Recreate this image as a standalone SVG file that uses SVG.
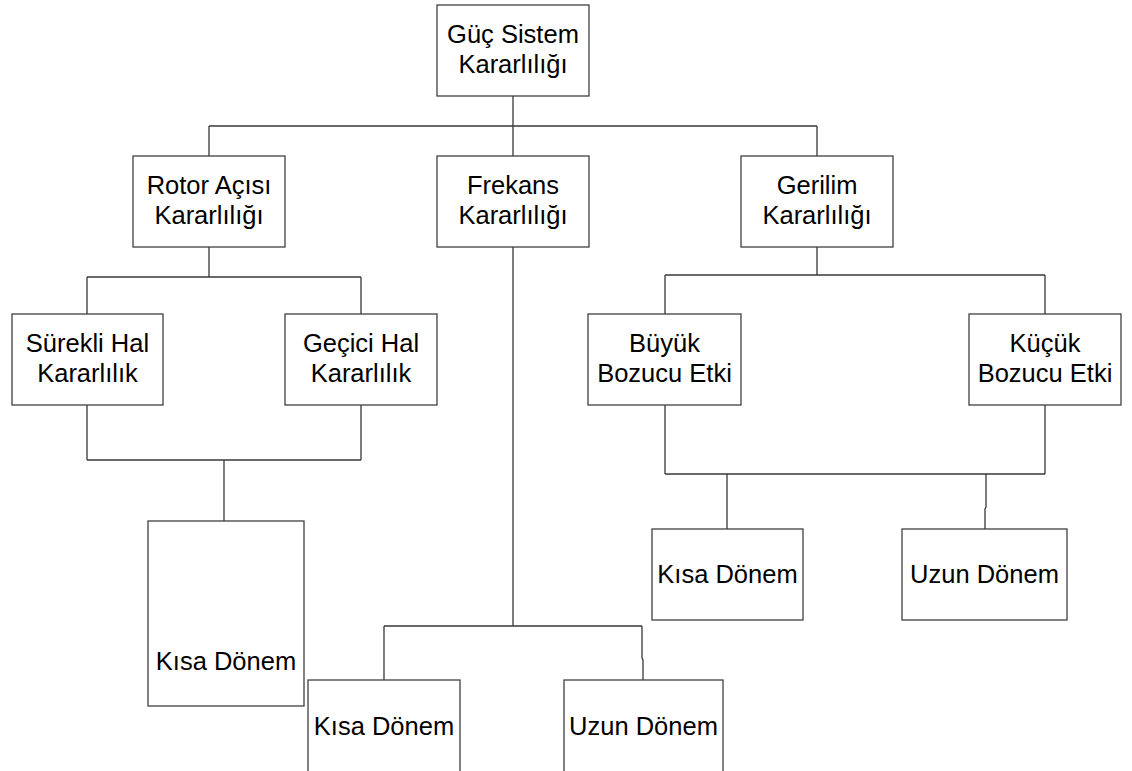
<svg xmlns="http://www.w3.org/2000/svg" width="1132" height="771" viewBox="0 0 1132 771">
  <style>
    .box { fill: #ffffff; stroke: #404040; stroke-width: 1.3; }
    .wire { fill: none; stroke: #383838; stroke-width: 1.3; }
    text { font-family: "Liberation Sans", Arial, sans-serif; font-size: 25.5px; fill: #000000; text-anchor: middle; }
  </style>
  <rect width="1132" height="771" fill="#ffffff"/>

  <!-- connectors -->
  <g id="connectors">
    <path class="wire" d="M513 96 V126 M209 126 H817 M209 126 V156 M513 126 V156 M817 126 V156"/>
    <path class="wire" d="M209 247 V277 M87 277 H361 M87 277 V314 M361 277 V314"/>
    <path class="wire" d="M87 405 V460 M361 405 V460 M87 460 H361 M224 460 V521"/>
    <path class="wire" d="M513 247 V626 M384 626 H642 M384 626 V680 M642 626 V658 L643 660 V680"/>
    <path class="wire" d="M817 247 V275 M665 275 H1045 M665 275 V314 M1045 275 V314"/>
    <path class="wire" d="M665 405 V474 M1045 405 V474 M665 474 H1045 M727 474 V529 M986 474 V507 L985 509 V529"/>
  </g>

  <g id="guc-sistem">
    <rect class="box" x="437" y="5" width="152" height="91"/>
    <text x="513" y="43">Güç Sistem</text>
    <text x="513" y="73">Kararlılığı</text>
  </g>

  <g id="rotor-acisi">
    <rect class="box" x="133" y="156" width="152" height="91"/>
    <text x="209" y="194">Rotor Açısı</text>
    <text x="209" y="224">Kararlılığı</text>
  </g>

  <g id="frekans">
    <rect class="box" x="437" y="156" width="152" height="91"/>
    <text x="513" y="194">Frekans</text>
    <text x="513" y="224">Kararlılığı</text>
  </g>

  <g id="gerilim">
    <rect class="box" x="741" y="156" width="152" height="91"/>
    <text x="817" y="194">Gerilim</text>
    <text x="817" y="224">Kararlılığı</text>
  </g>

  <g id="surekli-hal">
    <rect class="box" x="12" y="314" width="151" height="91"/>
    <text x="87.5" y="352">Sürekli Hal</text>
    <text x="87.5" y="382">Kararlılık</text>
  </g>

  <g id="gecici-hal">
    <rect class="box" x="285" y="314" width="152" height="91"/>
    <text x="361" y="352">Geçici Hal</text>
    <text x="361" y="382">Kararlılık</text>
  </g>

  <g id="buyuk-bozucu">
    <rect class="box" x="588" y="314" width="153" height="91"/>
    <text x="664.5" y="352">Büyük</text>
    <text x="664.5" y="382">Bozucu Etki</text>
  </g>

  <g id="kucuk-bozucu">
    <rect class="box" x="969" y="314" width="152" height="91"/>
    <text x="1045" y="352">Küçük</text>
    <text x="1045" y="382">Bozucu Etki</text>
  </g>

  <g id="rotor-kisa-donem">
    <rect class="box" x="148" y="521" width="156" height="185"/>
    <text x="226" y="670">Kısa Dönem</text>
  </g>

  <g id="gerilim-kisa-donem">
    <rect class="box" x="652" y="529" width="151" height="91"/>
    <text x="727.5" y="583">Kısa Dönem</text>
  </g>

  <g id="gerilim-uzun-donem">
    <rect class="box" x="902" y="529" width="165" height="91"/>
    <text x="984.5" y="583">Uzun Dönem</text>
  </g>

  <g id="frekans-kisa-donem">
    <rect class="box" x="308" y="680" width="152" height="100"/>
    <text x="384" y="735">Kısa Dönem</text>
  </g>

  <g id="frekans-uzun-donem">
    <rect class="box" x="564" y="680" width="159" height="100"/>
    <text x="643.5" y="735">Uzun Dönem</text>
  </g>
</svg>
